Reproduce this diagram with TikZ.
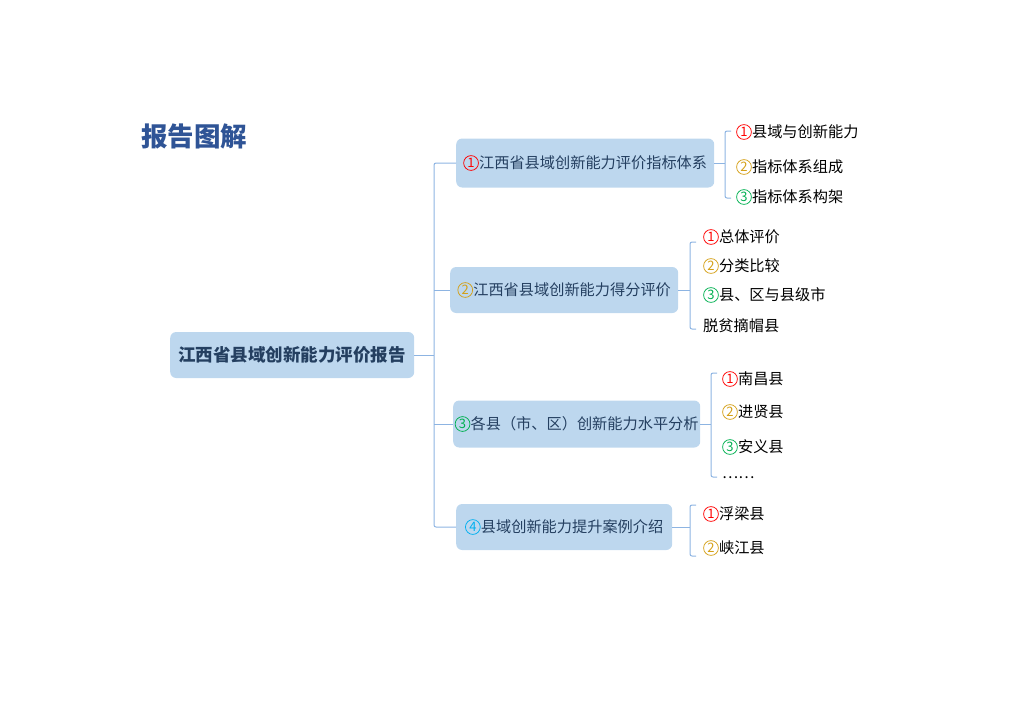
\documentclass[tikz,border=0pt]{standalone}
\usepackage{fontspec}
\setmainfont{Noto Sans CJK SC}
\newfontfamily\cjk{Noto Sans CJK SC}
\definecolor{boxfill}{HTML}{BDD7EE}
\definecolor{boxtext}{HTML}{243F60}
\definecolor{linec}{HTML}{8DB4E2}
\definecolor{titlec}{HTML}{2F5496}
\definecolor{nred}{HTML}{FF0000}
\definecolor{ngold}{HTML}{D4A017}
\definecolor{ngreen}{HTML}{00B050}
\definecolor{ncyan}{HTML}{00B0F0}
\newcommand{\cnum}[2]{\tikz[baseline={(0pt,-5.6pt)},x=1pt,y=1pt]{\draw[draw=#1,line width=0.75pt] (0,0) circle[radius=7.4pt]; \pgftext{\cjk\fontsize{13}{13}\selectfont\textcolor{#1}{#2}}}\hspace{0.3pt}}
\newcommand{\ra}{\cnum{nred}{1}}
\newcommand{\rb}{\cnum{ngold}{2}}
\newcommand{\rc}{\cnum{ngreen}{3}}
\newcommand{\rd}{\cnum{ncyan}{4}}
\begin{document}
\begin{tikzpicture}[x=1pt,y=-1pt,
  topicbox/.style={draw=none,fill=boxfill,rounded corners=6pt,text=boxtext,font=\cjk\fontsize{15.2}{16}\selectfont,inner sep=0pt,minimum height=47pt,anchor=west},
  item/.style={anchor=west,inner sep=0pt,text=black,font=\cjk\fontsize{15.2}{16}\selectfont},
  conn/.style={draw=linec,line width=1pt,rounded corners=2pt}]
\useasboundingbox (0,0) rectangle (1024,724);
\node[anchor=west,text=titlec,font=\cjk\bfseries\fontsize{26.5}{28}\selectfont,inner sep=0pt] (title) at (141,136) {报告图解};
\node[topicbox,minimum width=244pt,minimum height=46pt,font=\cjk\bfseries\fontsize{17.5}{18}\selectfont] (root) at (170,355) {江西省县域创新能力评价报告};
\node[topicbox,minimum width=258pt,minimum height=49pt] (b1) at (456,163) {\ra 江西省县域创新能力评价指标体系};
\node[topicbox,minimum width=228pt,minimum height=46pt] (b2) at (450,290) {\rb 江西省县域创新能力得分评价};
\node[topicbox,minimum width=247pt] (b3) at (453,424) {\rc 各县（市、区）创新能力水平分析};
\node[topicbox,minimum width=216pt,minimum height=46pt] (b4) at (456,527) {\rd 县域创新能力提升案例介绍};
% trunk
\coordinate (tr) at (434,355);
\draw[conn] (root.east) -- (tr);
\draw[conn] (b1.west) -- (434,163) -- (434,527) -- (b4.west);
\draw[conn] (434,290) -- (b2.west);
\draw[conn] (434,424) -- (b3.west);
% items b1
\node[item] (i11) at (736,132) {\ra 县域与创新能力};
\node[item] (i12) at (736,167) {\rb 指标体系组成};
\node[item] (i13) at (736,197) {\rc 指标体系构架};
\draw[conn] (b1.east) -- (725,163);
\draw[conn] (731,131) -- (725,131) -- (725,198) -- (731,198);
% items b2
\node[item] (i21) at (703,237) {\ra 总体评价};
\node[item] (i22) at (703,266) {\rb 分类比较};
\node[item] (i23) at (703,295) {\rc 县、区与县级市};
\node[item] (i24) at (703,326) {脱贫摘帽县};
\draw[conn] (b2.east) -- (690,290);
\draw[conn] (696,242) -- (690,242) -- (690,329) -- (696,329);
% items b3
\node[item] (i31) at (722,379) {\ra 南昌县};
\node[item] (i32) at (722,412) {\rb 进贤县};
\node[item] (i33) at (722,447) {\rc 安义县};
\node[item] (i34) at (722,478) {……};
\draw[conn] (b3.east) -- (711,424);
\draw[conn] (717,373) -- (711,373) -- (711,477) -- (717,477);
% items b4
\node[item] (i41) at (703,514) {\ra 浮梁县};
\node[item] (i42) at (703,548) {\rb 峡江县};
\draw[conn] (b4.east) -- (690,527);
\draw[conn] (696,505) -- (690,505) -- (690,556) -- (696,556);
\end{tikzpicture}
\end{document}
